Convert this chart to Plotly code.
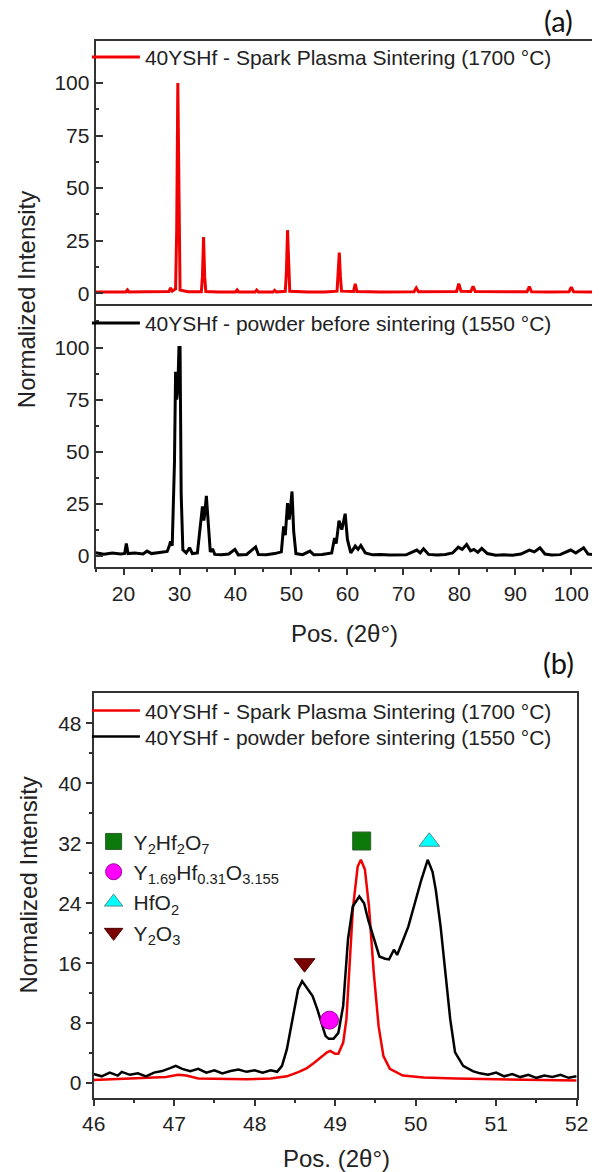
import plotly.graph_objects as go

W, H = 604, 1172

# ---------------- Panel (a): full-range patterns ----------------
sps_a_x = [15, 17, 19, 20.4, 20.7, 21.0, 24, 27, 28.1, 28.4, 28.7, 29.3, 29.5, 29.7, 29.9, 30.1, 31.5, 33.9,
           34.1, 34.3, 34.5, 34.7, 37, 40.0, 40.3, 40.6, 43.5, 43.8, 44.1, 46.7, 47.0, 47.3, 48.9, 49.1, 49.3,
           49.5, 49.7, 53, 56, 58.15, 58.35, 58.55, 58.75, 58.95, 61.1, 61.4, 61.7, 66, 71.9, 72.3, 72.7, 76,
           79.5, 79.9, 80.3, 82.05, 82.45, 82.85, 87, 92.1, 92.5, 92.9, 96, 99.6, 100.0, 100.4, 103.7]
sps_a_y = [0.6, 0.5, 0.6, 0.6, 1.6, 0.6, 0.7, 0.6, 0.8, 2.5, 1.0, 2.0, 30, 100, 30, 1.5, 0.7, 0.7,
           8, 26.7, 8, 0.8, 0.6, 0.6, 1.6, 0.6, 0.6, 1.5, 0.6, 0.6, 1.4, 0.6, 0.9, 10, 30,
           10, 0.9, 0.6, 0.6, 1.0, 8, 19.3, 8, 1.0, 0.8, 4.5, 0.8, 0.6, 0.7, 2.5, 0.7, 0.6,
           0.8, 4.5, 0.9, 0.8, 3.3, 0.8, 0.6, 0.7, 3.2, 0.7, 0.6, 0.7, 2.9, 0.7, 0.6]

pow_a_x = [15, 16.5, 18, 19.5, 20.2, 20.5, 20.8, 22, 23.5, 24.2, 25, 26.5, 27.8, 28.2, 28.4, 28.7, 28.9, 29.1,
           29.3, 29.5, 29.7, 29.9, 30.1, 30.3, 30.6, 31.2, 31.8, 32.3, 33.2, 33.6, 33.9, 34.1, 34.35, 34.5,
           34.8, 35.1, 35.5, 35.9, 36.3, 37.5, 38.8, 39.9, 40.5, 42, 43.6, 44.1, 45.5, 47, 48.2, 48.6, 48.9,
           49.3, 49.6, 49.8, 50.1, 50.4, 50.8, 52, 53.3, 54, 55.5, 57.2, 57.7, 58.0, 58.5, 59.0, 59.6, 60.0,
           60.6, 61.4, 61.9, 62.4, 63.2, 64.5, 66, 67.5, 69, 70.5, 72.4, 73.0, 73.6, 74.5, 76, 77.5, 78.8, 79.8,
           80.5, 81.3, 82.0, 82.6, 83.3, 84.0, 85, 86.5, 88, 89.5, 91, 92.5, 93.4, 94.4, 95.3, 96.5, 98, 99.9,
           100.8, 102.2, 103, 103.7]
pow_a_y = [1.6, 0.9, 1.5, 1.0, 1.3, 6.0, 1.2, 1.5, 1.0, 2.4, 1.2, 1.6, 2.2, 5, 7.1, 5, 20, 44.8,
           88.4, 75, 80, 100, 100, 30, 3, 1.5, 4, 1.2, 1.5, 11, 20, 23.8, 17, 20,
           28.9, 15, 2.0, 3.5, 0.8, 0.6, 1.0, 3.2, 0.6, 0.8, 4.4, 0.7, 0.6, 1.2, 2.0, 14.3, 10,
           25.4, 17.5, 22, 31, 12, 1.2, 0.7, 2.4, 0.6, 0.8, 1.5, 8.7, 6, 17, 12.7, 20.3, 8,
           1.5, 4.8, 3.2, 5.1, 1.5, 0.6, 0.8, 0.5, 0.7, 0.6, 2.9, 1.5, 3.5, 0.8, 0.5, 0.8, 1.5, 4.3,
           3.2, 5.6, 2.5, 3.2, 1.8, 3.7, 1.2, 0.4, 0.6, 0.4, 1.0, 2.9, 2.0, 4.0, 1.0, 0.5, 0.7, 2.9,
           1.5, 4.0, 1.0, 0.8]

# ---------------- Panel (b): zoom 46-52 ----------------
sps_b_x = [46.0, 46.3, 46.6, 46.9, 47.05, 47.15, 47.3, 47.6, 47.9, 48.2, 48.4, 48.55, 48.65, 48.74, 48.82,
           48.90, 48.94, 49.00, 49.04, 49.10, 49.14, 49.18, 49.22, 49.28, 49.32, 49.37, 49.42, 49.48, 49.54,
           49.60, 49.68, 49.84, 50.1, 50.5, 51.0, 51.5, 52.0]
sps_b_y = [0.4, 0.5, 0.6, 0.8, 1.1, 1.0, 0.6, 0.5, 0.5, 0.6, 0.9, 1.5, 2.0, 2.7, 3.4,
           4.1, 4.3, 3.9, 3.9, 5.4, 8.5, 15.6, 23.2, 28.9, 29.8, 28.5, 23.6, 14.7, 7.6,
           3.6, 1.9, 1.0, 0.75, 0.6, 0.5, 0.45, 0.35]

pow_b_x = [46.00, 46.10, 46.20, 46.30, 46.35, 46.45, 46.55, 46.65, 46.75, 46.85, 46.95, 47.02, 47.10, 47.20,
           47.30, 47.40, 47.50, 47.60, 47.70, 47.80, 47.90, 48.00, 48.10, 48.20, 48.28, 48.34, 48.40, 48.48,
           48.54, 48.59, 48.66, 48.72, 48.78, 48.84, 48.88, 48.92, 48.98, 49.04, 49.10, 49.16, 49.22, 49.30,
           49.36, 49.41, 49.47, 49.55, 49.62, 49.67, 49.73, 49.77, 49.83, 49.91, 49.99, 50.07, 50.15, 50.21,
           50.25, 50.31, 50.37, 50.43, 50.49, 50.59, 50.71, 50.80, 50.90, 51.00, 51.10, 51.20, 51.30, 51.40,
           51.50, 51.60, 51.70, 51.80, 51.90, 52.00]
pow_b_y = [1.2, 0.9, 1.4, 1.0, 1.5, 1.1, 1.3, 0.9, 1.4, 1.6, 2.0, 2.3, 1.9, 1.6,
           1.9, 1.4, 1.7, 1.3, 1.6, 1.8, 1.5, 1.7, 1.4, 1.7, 1.5, 2.3, 4.5, 9.0,
           12.5, 13.6, 12.5, 11.6, 9.8, 7.6, 6.3, 5.9, 5.9, 6.7, 10.3, 19.2, 23.6, 24.9,
           24.0, 21.8, 19.6, 16.9, 16.6, 16.5, 17.8, 17.1, 18.7, 20.9, 24.0, 27.1, 29.8, 28.2,
           25.8, 20.9, 14.7, 8.5, 4.1, 2.3, 1.6, 1.3, 1.1, 1.4, 0.9, 1.2, 0.8, 1.1,
           0.7, 1.0, 0.8, 1.1, 0.7, 0.9]

phase_names = ["Y<sub>2</sub>Hf<sub>2</sub>O<sub>7</sub>",
               "Y<sub>1.69</sub>Hf<sub>0.31</sub>O<sub>3.155</sub>",
               "HfO<sub>2</sub>",
               "Y<sub>2</sub>O<sub>3</sub>"]
phase_x = [49.33, 48.93, 50.17, 48.62]
phase_y = [32.3, 8.4, 32.2, 16.0]
phase_symbols = ["square", "circle", "triangle-up", "triangle-down"]
phase_colors = ["#0b7a0b", "#ff00ff", "#00ffff", "#7a0000"]
phase_edges = ["#2f5f2f", "#a000a0", "#5a8a8a", "#4a0000"]

label_sps = "40YSHf - Spark Plasma Sintering (1700 °C)"
label_pow = "40YSHf - powder before sintering (1550 °C)"

RED = "#f00000"
BLK = "#000000"
FONT = "Liberation Sans, Arial, sans-serif"
FS = 21
AX = "#333333"
LW = 1.8


def py2paper(py):
    return 1 - py / H


def px2paper(px):
    return px / W


fig = go.Figure()
fig.add_trace(go.Scatter(x=sps_a_x, y=sps_a_y, mode="lines", name=label_sps, line=dict(color=RED, width=3),
                         xaxis="x", yaxis="y", legend="legend"))
fig.add_trace(go.Scatter(x=pow_a_x, y=pow_a_y, mode="lines", name=label_pow, line=dict(color=BLK, width=3),
                         xaxis="x2", yaxis="y2", legend="legend2"))
fig.add_trace(go.Scatter(x=sps_b_x, y=sps_b_y, mode="lines", name=label_sps, line=dict(color=RED, width=2.5),
                         xaxis="x3", yaxis="y3", legend="legend3"))
fig.add_trace(go.Scatter(x=pow_b_x, y=pow_b_y, mode="lines", name=label_pow, line=dict(color=BLK, width=2.5),
                         xaxis="x3", yaxis="y3", legend="legend5"))
for n, xx, yy, s, c, e in zip(phase_names, phase_x, phase_y, phase_symbols, phase_colors, phase_edges):
    fig.add_trace(go.Scatter(x=[xx], y=[yy], mode="markers", name=n,
                             marker=dict(symbol=s, size=18, color=c, line=dict(color=e, width=1)),
                             xaxis="x3", yaxis="y3", legend="legend4"))

xa_dom = [87 / W, 1.0]
common = dict(showgrid=False, zeroline=False, showline=True, linecolor=AX, linewidth=LW,
              tickfont=dict(family=FONT, size=FS, color="#222"), tickcolor=AX, tickwidth=LW)
leg = dict(xanchor="left", yanchor="top", bgcolor="rgba(0,0,0,0)",
           font=dict(family=FONT, size=FS, color="#222"))

fig.update_layout(
    width=W, height=H, margin=dict(l=0, r=0, t=0, b=0),
    paper_bgcolor="white", plot_bgcolor="white",
    font=dict(family=FONT, size=FS, color="#222"),
    xaxis=dict(domain=xa_dom, range=[15, 103.7], anchor="y", mirror=True, ticks="", showticklabels=False,
               **common),
    yaxis=dict(domain=[py2paper(304), py2paper(41)], range=[-5, 120], anchor="x", mirror=False,
               tickvals=[0, 25, 50, 75, 100], ticks="inside", ticklen=8,
               minor=dict(tickvals=[12.5, 37.5, 62.5, 87.5, 112.5], ticks="inside", ticklen=4,
                          tickcolor=AX, tickwidth=LW), **common),
    xaxis2=dict(domain=xa_dom, range=[15, 103.7], anchor="y2", mirror=False, ticks="outside", ticklen=7,
                tickvals=[20, 30, 40, 50, 60, 70, 80, 90, 100],
                minor=dict(tickvals=[15, 25, 35, 45, 55, 65, 75, 85, 95], ticks="outside", ticklen=4,
                           tickcolor=AX, tickwidth=LW), **common),
    yaxis2=dict(domain=[py2paper(567), py2paper(304)], range=[-5, 121], anchor="x2", mirror=False,
                tickvals=[0, 25, 50, 75, 100], ticks="inside", ticklen=8,
                minor=dict(tickvals=[12.5, 37.5, 62.5, 87.5, 112.5], ticks="inside", ticklen=4,
                           tickcolor=AX, tickwidth=LW), **common),
    xaxis3=dict(domain=[85 / W, 588 / W], range=[46, 52], anchor="y3", mirror=True, ticks="outside",
                ticklen=6, tickvals=[46, 47, 48, 49, 50, 51, 52],
                minor=dict(tickvals=[46.5, 47.5, 48.5, 49.5, 50.5, 51.5], ticks="outside", ticklen=3,
                           tickcolor=AX, tickwidth=LW), **common),
    yaxis3=dict(domain=[py2paper(1099), py2paper(694)], range=[-2, 52], anchor="x3", mirror=True,
                ticks="outside", ticklen=6, tickvals=[0, 8, 16, 24, 32, 40, 48],
                minor=dict(tickvals=[4, 12, 20, 28, 36, 44], ticks="outside", ticklen=3,
                           tickcolor=AX, tickwidth=LW), **common),
    legend=dict(x=px2paper(78), y=py2paper(37), itemwidth=48, **leg),
    legend2=dict(x=px2paper(78), y=py2paper(303), itemwidth=48, **leg),
    legend3=dict(x=px2paper(78), y=py2paper(691), itemwidth=48, **leg),
    legend5=dict(x=px2paper(78), y=py2paper(717), itemwidth=48, **leg),
    legend4=dict(x=px2paper(85), y=py2paper(822), itemwidth=30, **leg),
    showlegend=True,
)

for txt, x, y in [("(a)", 569, 21), ("(b)", 569, 663)]:
    fig.add_annotation(text=txt, x=px2paper(x), y=py2paper(y), xref="paper", yref="paper", showarrow=False,
                       xanchor="center", yanchor="middle",
                       font=dict(family="Lato, Open Sans, sans-serif", size=29, color="#111"))
for txt, x, y, ang in [("Normalized Intensity", 15, 300, -90), ("Normalized Intensity", 17, 886, -90),
                       ("Pos. (2θ°)", 346, 634, 0), ("Pos. (2θ°)", 338, 1159, 0)]:
    fig.add_annotation(text=txt, x=px2paper(x), y=py2paper(y), xref="paper", yref="paper", showarrow=False,
                       xanchor="center", yanchor="middle", textangle=ang,
                       font=dict(family=FONT, size=24, color="#222"))

fig.write_html("out.html")
